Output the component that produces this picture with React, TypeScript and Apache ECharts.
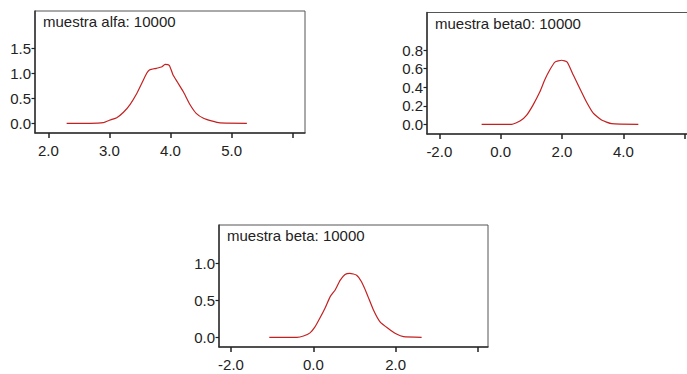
import React, { useEffect, useRef } from "react";
import * as echarts from "echarts";

// muestra alfa
const alfaX = [2.30, 2.68, 2.90, 3.01, 3.12, 3.23, 3.34, 3.45, 3.53, 3.61, 3.66, 3.77, 3.86, 3.91, 3.98, 4.04, 4.11, 4.21, 4.32, 4.42, 4.54, 4.67, 4.81, 5.25];
const alfaY = [0, 0, 0.013, 0.066, 0.113, 0.22, 0.38, 0.6, 0.8, 1.0, 1.07, 1.1, 1.13, 1.18, 1.16, 0.97, 0.83, 0.63, 0.37, 0.2, 0.1, 0.047, 0.007, 0];
// muestra beta0
const beta0X = [-0.62, 0.36, 0.63, 0.85, 1.06, 1.28, 1.44, 1.61, 1.77, 1.99, 2.17, 2.37, 2.59, 2.8, 3.02, 3.29, 3.62, 4.49];
const beta0Y = [0, 0, 0.035, 0.1, 0.21, 0.35, 0.48, 0.59, 0.67, 0.69, 0.67, 0.53, 0.38, 0.24, 0.12, 0.046, 0.007, 0];
// muestra beta
const betaX = [-1.07, -0.4, -0.24, -0.08, 0.04, 0.16, 0.28, 0.41, 0.53, 0.65, 0.77, 0.89, 1.05, 1.17, 1.3, 1.46, 1.62, 1.82, 2.02, 2.19, 2.63];
const betaY = [0, 0, 0.017, 0.06, 0.14, 0.26, 0.39, 0.55, 0.64, 0.77, 0.85, 0.865, 0.84, 0.75, 0.59, 0.37, 0.21, 0.12, 0.045, 0.01, 0];

const titles = ["muestra alfa: 10000", "muestra beta0: 10000", "muestra beta: 10000"];

const alfaXTicks = [2, 3, 4, 5, 6];
const alfaXLabels = [2, 3, 4, 5];
const alfaYTicks = [0, 0.5, 1, 1.5];
const beta0XTicks = [-2, 0, 2, 4, 6];
const beta0XLabels = [-2, 0, 2, 4];
const beta0YTicks = [0, 0.2, 0.4, 0.6, 0.8];
const betaXTicks = [-2, 0, 2, 4];
const betaXLabels = [-2, 0, 2];
const betaYTicks = [0, 0.5, 1];

const FONT = "'Liberation Sans', Arial, sans-serif";
const TEXT = "#222";
const LINE = "#c42020";

export default function App() {
  const ref = useRef<HTMLDivElement>(null);
  useEffect(() => {
    if (!ref.current) return;
    const chart = echarts.init(ref.current, null, { renderer: "svg" });
    const grids = [
      { left: 35, top: 11, width: 270, height: 122 },
      { left: 427, top: 12.5, width: 270, height: 121.5 },
      { left: 219, top: 225, width: 269, height: 122 },
    ];
    const xr = [
      [1.782, 6.201],
      [-2.401, 6.403],
      [-2.291, 4.242],
    ];
    const yr = [
      [-0.194, 2.246],
      [-0.104, 1.204],
      [-0.131, 1.518],
    ];
    const xt = [alfaXTicks, beta0XTicks, betaXTicks];
    const xl = [alfaXLabels, beta0XLabels, betaXLabels];
    const yt = [alfaYTicks, beta0YTicks, betaYTicks];
    const data = [
      alfaX.map((x, i) => [x, alfaY[i]]),
      beta0X.map((x, i) => [x, beta0Y[i]]),
      betaX.map((x, i) => [x, betaY[i]]),
    ];
    const fmt = (v: number) => Number(v).toFixed(1);
    chart.setOption({
      animation: false,
      grid: grids.map((g) => ({
        ...g,
        show: true,
        borderColor: "#555",
        borderWidth: 1,
        containLabel: false,
      })),
      xAxis: grids.map((_, i) => ({
        type: "value",
        gridIndex: i,
        min: xr[i][0],
        max: xr[i][1],
        axisLine: { show: true, onZero: false, lineStyle: { color: "#333", width: 1.5 } },
        axisTick: { show: true, length: 5, customValues: xt[i], lineStyle: { color: "#222", width: 1.5 } },
        axisLabel: {
          customValues: xl[i],
          formatter: fmt,
          color: TEXT,
          fontFamily: FONT,
          fontSize: 15,
          margin: 10,
        },
        splitLine: { show: false },
      })),
      yAxis: grids.map((_, i) => ({
        type: "value",
        gridIndex: i,
        min: yr[i][0],
        max: yr[i][1],
        axisLine: { show: true, onZero: false, lineStyle: { color: "#333", width: 1.5 } },
        axisTick: { show: true, length: 3.5, customValues: yt[i], lineStyle: { color: "#222", width: 1.2 } },
        axisLabel: {
          customValues: yt[i],
          formatter: fmt,
          color: TEXT,
          fontFamily: FONT,
          fontSize: 15,
          margin: 4,
        },
        splitLine: { show: false },
      })),
      series: data.map((d, i) => ({
        type: "line",
        xAxisIndex: i,
        yAxisIndex: i,
        data: d,
        showSymbol: false,
        smooth: 0.15,
        lineStyle: { color: LINE, width: 1.2 },
      })),
      graphic: titles.map((t, i) => ({
        type: "text",
        left: grids[i].left + 8,
        top: grids[i].top + 3,
        style: { text: t, fill: TEXT, font: `15px ${FONT}` },
      })),
    });
    return () => chart.dispose();
  }, []);
  return (
    <div style={{ position: "fixed", left: 0, top: 0, width: 687, height: 374, overflow: "hidden", background: "#fff" }}>
      <div ref={ref} style={{ width: 710, height: 374 }} />
    </div>
  );
}
